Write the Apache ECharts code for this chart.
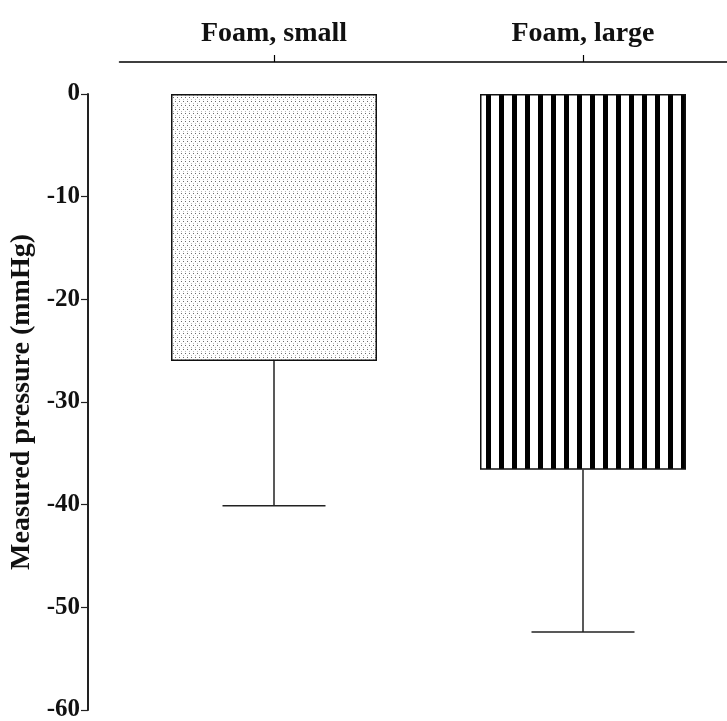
<!DOCTYPE html>
<html><head><meta charset="utf-8">
<script src="https://cdn.jsdelivr.net/npm/echarts@6/dist/echarts.min.js"></script>
<style>html,body{margin:0;padding:0;background:#fff}#c{width:727px;height:721px}</style>
</head><body><div id="c"></div>
<script>
const categories = ['Foam, small', 'Foam, large'];
const means = [-26, -36.6];
const errLow = [-40.1, -52.4];
const yTicks = [0, -10, -20, -30, -40, -50, -60];

function dotPattern() {
  const c = document.createElement('canvas');
  c.width = 8; c.height = 8;
  const g = c.getContext('2d');
  g.fillStyle = '#fff'; g.fillRect(0, 0, 8, 8);
  g.fillStyle = '#6a6a6a';
  g.fillRect(1, 1, 1, 1); g.fillRect(5, 1, 1, 1);
  g.fillRect(3, 5, 1, 1); g.fillRect(7, 5, 1, 1);
  g.fillStyle = '#bbb';
  g.fillRect(3, 3, 1, 1); g.fillRect(7, 3, 1, 1);
  g.fillRect(1, 7, 1, 1); g.fillRect(5, 7, 1, 1);
  return c;
}
function stripePattern() {
  const c = document.createElement('canvas');
  c.width = 13; c.height = 13;
  const g = c.getContext('2d');
  g.fillStyle = '#fff'; g.fillRect(0, 0, 13, 13);
  g.fillStyle = '#000'; g.fillRect(5, 0, 5, 13);
  return c;
}
const fills = [
  { image: dotPattern(), repeat: 'repeat' },
  { image: stripePattern(), repeat: 'repeat' }
];

const font = 'Liberation Serif';
const chart = echarts.init(document.getElementById('c'));
chart.setOption({
  animation: false,
  grid: { left: 119.5, right: -10.5, top: 94, bottom: 11, containLabel: false, outerBoundsMode: 'none' },
  xAxis: {
    type: 'category', data: categories, position: 'top', offset: 32,
    axisLine: { show: true, onZero: false, lineStyle: { color: '#000', width: 1.5 } },
    axisTick: { show: true, inside: false, alignWithLabel: true, length: 7, lineStyle: { color: '#000', width: 1.2 } },
    axisLabel: { fontFamily: font, fontWeight: 'bold', fontSize: 28, color: '#111', margin: 14 }
  },
  yAxis: {
    type: 'value', min: -60, max: 0, interval: 10, offset: 31.5,
    name: 'Measured pressure (mmHg)', nameLocation: 'middle', nameGap: 52, nameRotate: 90,
    nameTextStyle: { fontFamily: font, fontWeight: 'bold', fontSize: 28, color: '#111' },
    axisLine: { show: true, onZero: false, lineStyle: { color: '#222', width: 2 } },
    axisTick: { show: true, length: 7, lineStyle: { color: '#222', width: 1.2 } },
    axisLabel: { fontFamily: font, fontWeight: 'bold', fontSize: 25, color: '#111', margin: 8,
      formatter: v => yTicks.includes(v) ? String(v) : '' },
    splitLine: { show: false }
  },
  series: [
    {
      type: 'bar', barWidth: 206,
      data: means.map((v, i) => ({ value: v, itemStyle: { color: fills[i] } })),
      itemStyle: { borderColor: '#111', borderWidth: 1.5 }
    },
    {
      type: 'custom', z: 1,
      data: means.map((v, i) => [i, v, errLow[i]]),
      renderItem: function (params, api) {
        const top = api.coord([api.value(0), api.value(1)]);
        const bot = api.coord([api.value(0), api.value(2)]);
        const hw = 51.5;
        const st = { stroke: '#222', lineWidth: 1.5 };
        return { type: 'group', children: [
          { type: 'line', shape: { x1: top[0], y1: top[1], x2: bot[0], y2: bot[1] }, style: st },
          { type: 'line', shape: { x1: bot[0] - hw, y1: bot[1], x2: bot[0] + hw, y2: bot[1] }, style: st }
        ] };
      }
    }
  ]
});
</script></body></html>
